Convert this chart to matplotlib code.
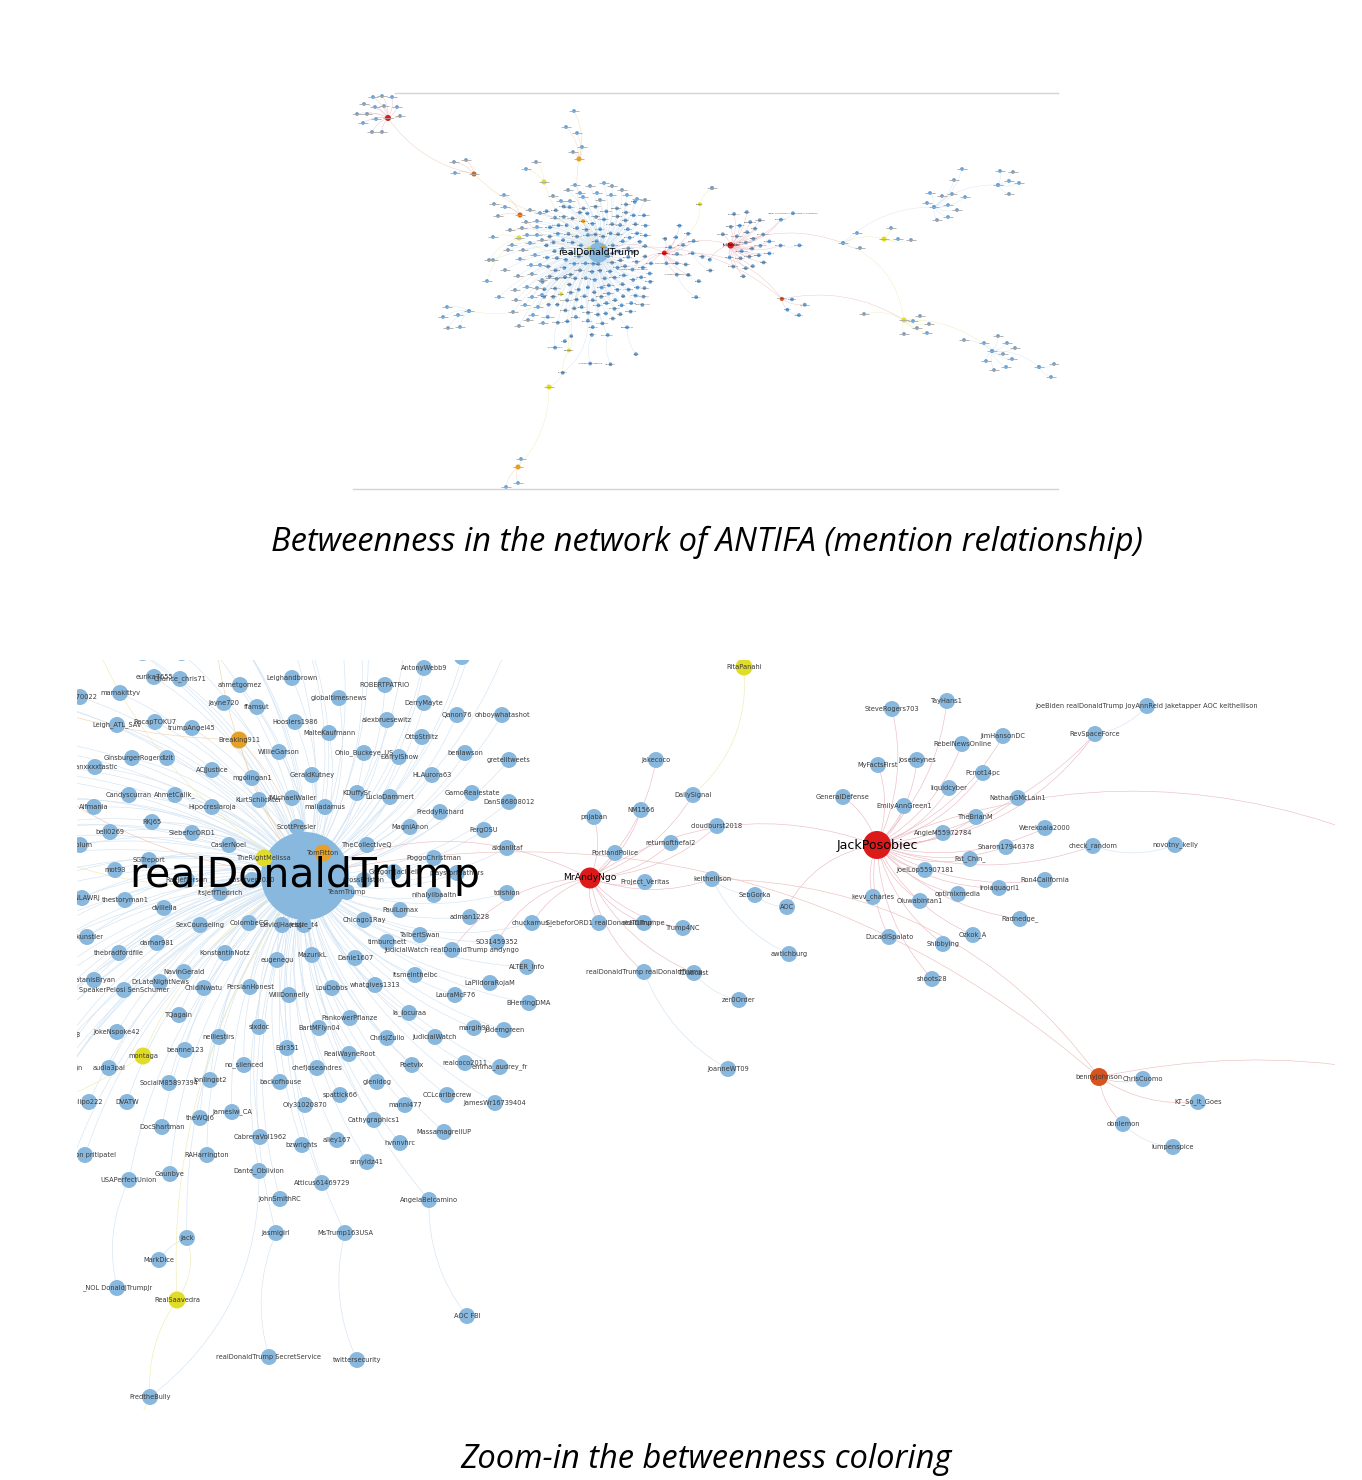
import matplotlib
matplotlib.use("Agg")
import matplotlib.pyplot as plt
from matplotlib.patches import FancyArrowPatch
from matplotlib.transforms import Affine2D

W, H, DPI = 1362, 1480, 100
K = 4.33  # the lower panel is the upper one magnified ~4.33x

# ---------------- zoomed network (lower-panel pixel frame) ----------------
hub_names = ["realDonaldTrump", "MrAndyNgo", "JackPosobiec", "bennyjohnson", "RitaPanahi"]
hub_x = [305, 590, 877, 1099, 744]
hub_y = [876, 878, 845, 1077, 667]

trump_names = [
    "eurika7655", "Chance_chris71", "mamakittyv", "Doc70022", "ahmetgomez",
    "Leighandbrown", "ROBERTPATRIO", "globaltimesnews", "AntonyWebb9", "cmaa668",
    "Jayne720", "ffamsut", "DerryMayte", "Qanon76", "ohboywhatashot",
    "Leigh_ATL_SAV", "RecapTOKU7", "trumpAngel45", "Hoosiers1986", "alexbruesewitz",
    "Breaking911", "MalteKaufmann", "OttoStrlitz", "WillieGarson", "Ohio_Buckeye_US",
    "DarrylShow", "benlawson", "gretelltweets", "GinsburgerRoger", "dizit",
    "Fanxxxxtastic", "ACJJustice", "mgolingan1", "GeraldKutney", "HLAurora63",
    "Candyscurran", "AhmetCalik_", "KDuffySr", "LuciaDammert", "GamoRealestate",
    "DanS86808012", "Alfmania", "Hipocresiaroja", "KurtSchlichter", "JMichaelWaller",
    "maliadamus", "FreddyRichard", "RKJ65", "bell0269", "SiebeforORD1",
    "ScottPresler", "MagniAnon", "FergOSU", "Fablum", "CaslerNoel",
    "TheCollectiveQ", "aidanlitaf", "TomFitton", "TheRightMelissa", "SGTreport",
    "PoggoChristman", "mot93", "GregoryJaciBell", "playsforfeathers", "RaeJefferson",
    "observer2020", "CrossBriston", "itsJeffTiedrich", "TeamTrump", "nihalyilbaaltn",
    "tdishion", "ELYNLAWRJ", "thestoryman1", "dvillella", "PaulLomax",
    "SexCounseling", "ColombeCG", "DavidJHarrisJr", "jessie_t4", "Chicago1Ray",
    "adman1228", "jhkunstler", "darhar981", "thebradfordfile", "KonstantinNotz",
    "eugenegu", "MazurikL", "Danie1607", "timburchett", "TalbertSwan",
    "JudicialWatch realDonaldTrump andyngo", "SO31459352", "ALTER_info", "SatanisBryan",
    "SpeakerPelosi SenSchumer",
    "NavinGerald", "DrLateNightNews", "ChidiNwatu", "PersianHonest", "WillDonnelly",
    "LouDobbs", "whatgives1313", "itsmeintheibc", "LaPildoraRojaM", "LauraMcF76",
    "BHerringDMA", "Nate2012", "TQagain", "la_locuraa", "PankowerPflanze",
    "sixdoc", "BartMFlyn04", "margih99", "judemgreen", "JokeNspoke42",
    "Tgirl73", "nelliestirs", "ChrisJZullo", "JudicialWatch", "montaga",
    "beanne123", "Edr351", "RealWayneRoot", "Poetvix", "realcoco2011",
    "emma_audrey_fr", "no_silenced", "chefjoseandres", "audia3pal", "bigman",
    "SocialM85897394", "lonlingot2", "backofhouse", "glenidog", "spattick66",
    "CCLcaribecrew", "lilipo222", "DVATW", "Oly31020870", "manni477",
    "JamesWr16739404", "theWQJ6", "jameslw_CA", "Cathygraphics1", "DocShartman",
    "CabreraVol1962", "alley167", "MassamagrellUP", "bzwrights", "hvnnvhrc",
    "Jefferson pritipatel", "RAHarrington", "USAPerfectUnion", "Gaunbye", "Dante_Oblivion",
    "snnyldz41", "Atticus61469729", "JohnSmithRC", "AngelaBelcamino", "jack",
    "Jasmigirl", "MsTrump163USA", "MarkDice", "_NOL DonaldJTrumpJr", "RealSaavedra",
    "AOC FBI", "realDonaldTrump SecretService", "twittersecurity", "FredtheBully",
]
trump_x = [
    154, 180, 120, 80, 240, 292, 385, 339, 424, 462,
    224, 257, 424, 457, 502, 117, 155, 192, 295, 387,
    239, 329, 422, 279, 364, 399, 465, 509, 132, 167,
    95, 212, 252, 312, 432, 129, 175, 357, 390, 472,
    509, 94, 212, 259, 292, 325, 440, 152, 110, 192,
    297, 410, 484, 80, 229, 367, 507, 323, 264, 149,
    434, 115, 394, 457, 187, 252, 364, 220, 347, 434,
    507, 82, 125, 164, 400, 200, 249, 282, 304, 364,
    470, 87, 157, 119, 225, 277, 312, 355, 387, 420,
    452, 497, 527, 94, 124, 184, 160, 204, 250, 289,
    332, 375, 415, 490, 455, 529, 62, 179, 409, 350,
    259, 319, 474, 504, 117, 70, 219, 387, 435, 143,
    185, 287, 349, 412, 465, 500, 244, 317, 109, 70,
    169, 210, 280, 377, 340, 447, 89, 127, 305, 405,
    495, 200, 232, 374, 162, 260, 337, 444, 302, 400,
    85, 207, 129, 170, 259, 367, 322, 280, 429, 187,
    276, 345, 159, 117, 177, 467, 269, 357, 150,
]
trump_y = [
    677, 679, 693, 697, 685, 678, 685, 698, 668, 657,
    703, 707, 703, 715, 715, 725, 722, 728, 722, 720,
    740, 733, 737, 752, 753, 757, 753, 760, 758, 758,
    767, 770, 778, 775, 775, 795, 795, 793, 797, 793,
    802, 807, 807, 800, 798, 807, 812, 822, 832, 833,
    827, 827, 830, 845, 845, 845, 848, 853, 858, 860,
    858, 870, 872, 873, 880, 880, 880, 893, 892, 895,
    893, 898, 900, 908, 910, 925, 923, 925, 925, 920,
    917, 937, 943, 953, 953, 960, 955, 958, 942, 935,
    950, 942, 967, 980, 990, 972, 982, 988, 987, 995,
    988, 985, 975, 983, 995, 1003, 1003, 1015, 1013, 1018,
    1027, 1028, 1028, 1030, 1032, 1035, 1037, 1038, 1037, 1056,
    1050, 1048, 1054, 1065, 1063, 1067, 1065, 1068, 1068, 1068,
    1083, 1080, 1082, 1082, 1095, 1095, 1102, 1102, 1105, 1105,
    1103, 1118, 1112, 1120, 1127, 1137, 1140, 1132, 1145, 1143,
    1155, 1155, 1180, 1174, 1171, 1162, 1183, 1199, 1200, 1238,
    1233, 1233, 1260, 1288, 1300, 1316, 1357, 1360, 1397,
]

ngo_names = [
    "jakecoco", "DailySignal", "NM1566", "pnjaban", "cloudburst2018",
    "returnofthefal2", "PortlandPolice", "Project_Veritas", "keithellison", "SebGorka",
    "AOC", "Trump4NC", "awtichburg", "chuckamus_", "SiebeforORD1 realDonaldTrump",
    "realDTrumpe", "realDonaldTrump realDonaldTrump", "TDubcast", "zer0Order", "JoanneWT09",
]
ngo_x = [656, 693, 641, 594, 717, 671, 615, 645, 712, 755,
         787, 683, 789, 532, 599, 644, 644, 694, 739, 728]
ngo_y = [760, 795, 810, 817, 826, 843, 853, 882, 879, 895,
         907, 928, 954, 923, 923, 923, 972, 973, 1000, 1069]

jack_names = [
    "TayHans1", "SteveRogers703",
    "JoeBiden realDonaldTrump JoyAnnReid jaketapper AOC keithellison",
    "JimHansonDC", "RebelNewsOnline",
    "RevSpaceForce", "josedeynes", "MyFactsFirst", "Pcnot14pc", "liquidcyber",
    "GeneralDefense", "NathanGMcLain1", "EmilyAnnGreen1", "TheBrianM", "Werekoala2000",
    "AngieM55972784", "Sharon17946378", "check_random", "novotny_kelly", "Fat_Chin_",
    "JoelLop55907181", "Ron4California", "lrolaquagrl1", "optimixmedia", "kevv_charles",
    "Oluwabintan1", "Radnedge_", "DucadiSpalato", "Ozkok_A", "Shibbying", "shoots28",
]
jack_x = [947, 892, 1147, 1003, 962, 1095, 917, 878, 983, 949,
          843, 1018, 904, 976, 1045, 943, 1006, 1093, 1175, 970,
          925, 1045, 999, 958, 873, 920, 1020, 889, 973, 943, 932]
jack_y = [701, 709, 706, 736, 744, 734, 760, 765, 773, 788,
          797, 798, 806, 817, 828, 833, 847, 846, 845, 859,
          870, 880, 888, 894, 897, 901, 919, 937, 935, 944, 979]

benny_names = ["ChrisCuomo", "KT_So_It_Goes", "donlemon", "lumpenspice"]
benny_x = [1143, 1198, 1123, 1173]
benny_y = [1079, 1102, 1124, 1147]

# betweenness colour classes (everything else is low / blue)
node_level = {
    "realDonaldTrump": "blue", "MrAndyNgo": "red", "JackPosobiec": "red",
    "bennyjohnson": "redorange", "RitaPanahi": "yellow", "Breaking911": "orange",
    "TomFitton": "orange", "TheRightMelissa": "yellow", "montaga": "yellow",
    "RealSaavedra": "yellow",
}

# edges that do not go to the cluster hub
relink = {
    "AOC FBI": "AngelaBelcamino", "twittersecurity": "MsTrump163USA",
    "realDonaldTrump SecretService": "Jasmigirl", "FredtheBully": "RealSaavedra",
    "MarkDice": "jack", "_NOL DonaldJTrumpJr": "USAPerfectUnion",
    "SebGorka": "keithellison", "AOC": "SebGorka", "awtichburg": "keithellison",
    "zer0Order": "TDubcast", "JoanneWT09": "realDonaldTrump realDonaldTrump",
    "JoeBiden realDonaldTrump JoyAnnReid jaketapper AOC keithellison": "RevSpaceForce",
    "novotny_kelly": "check_random", "lumpenspice": "donlemon",
}
extra_a = ["realDonaldTrump", "MrAndyNgo", "keithellison", "realDonaldTrump", "AOC",
           "jack", "Dante_Oblivion", "RitaPanahi", "JudicialWatch realDonaldTrump andyngo",
           "SO31459352", "chuckamus_", "RevSpaceForce"]
extra_b = ["MrAndyNgo", "JackPosobiec", "bennyjohnson", "bennyjohnson", "JackPosobiec",
           "RealSaavedra", "FredtheBully", "DailySignal", "MrAndyNgo",
           "MrAndyNgo", "realDonaldTrump", "JackPosobiec"]

# ---------------- outer parts only visible in the overview (upper-panel pixel frame) ----------------
ov_trump_x = [568, 580, 597, 611, 612, 627, 561, 570, 583, 600, 590, 622, 604, 575, 645, 553, 637,
              537, 537, 527, 537, 530, 523, 535, 540, 531, 520, 518, 532, 542, 527, 537, 532, 542,
              538, 543, 499, 513, 519, 493, 540, 530, 510, 515, 505, 525, 528, 512, 542, 526, 516,
              508, 522, 533]
ov_trump_y = [190, 193, 193, 195, 186, 195, 201, 201, 197, 200, 186, 190, 183, 185, 200, 196, 199,
              221, 227, 235, 235, 243, 250, 255, 265, 265, 259, 276, 274, 280, 287, 288, 297, 295,
              307, 323, 297, 312, 326, 260, 213, 210, 230, 290, 270, 305, 320, 245, 240, 222, 300,
              250, 228, 315]

ov_hub_names = ["ov_red", "ov_dark", "ov_top", "ov_yel1", "ov_org", "ov_yel2", "ov_left",
                "ov_yel3", "ov_tail", "ov_r1", "ov_yel4", "ov_r2", "ov_r3", "ov_yel5", "ov_r4",
                "ov_r5", "ov_up"]
ov_hub_x = [388, 474, 579, 544, 520, 519, 469, 549, 518, 843, 884, 934, 998, 904, 992, 1039, 712]
ov_hub_y = [118, 174, 159, 182, 215, 238, 311, 387, 467, 243, 239, 207, 185, 320, 351, 367, 188]
ov_hub_level = ["red", "darkorange", "orange", "yellow", "darkorange", "yellow", "blue",
                "yellow", "orange", "blue", "yellow", "blue", "blue", "yellow", "blue", "blue", "blue"]
ov_hub_link = ["ov_dark", "Breaking911", "realDonaldTrump", "realDonaldTrump", "realDonaldTrump",
               "realDonaldTrump", "montaga", "FredtheBully", "ov_yel3", "JackPosobiec", "ov_r1",
               "ov_r1", "ov_r2", "bennyjohnson", "ov_yel5", "ov_r4", "RitaPanahi"]
ov_leaf_x = [
    [382, 373, 392, 364, 375, 384, 397, 357, 367, 376, 400, 363, 372, 382],
    [454, 466, 455],
    [574, 566, 577, 582, 573],
    [536, 526],
    [504, 494, 505, 498],
    [493, 489, 487],
    [447, 458, 443, 448, 460],
    [],
    [521, 518, 506],
    [857, 860],
    [891, 898, 911],
    [962, 954, 930, 942, 952, 965, 927, 948, 957, 948, 937],
    [1000, 1013, 1009, 1019, 1009],
    [864, 913, 920, 929, 917, 927, 904],
    [964, 984, 998, 1007, 1003, 1015, 1012, 986, 1006, 994],
    [1054, 1051],
    [],
]
ov_leaf_y = [
    [96, 97, 97, 104, 107, 106, 107, 114, 114, 119, 116, 123, 132, 132],
    [162, 160, 173],
    [111, 127, 133, 147, 152],
    [162, 169],
    [195, 204, 207, 216],
    [237, 260, 281],
    [307, 315, 317, 328, 327],
    [],
    [459, 483, 487],
    [233, 248],
    [228, 239, 240],
    [169, 180, 193, 196, 194, 197, 203, 205, 210, 217, 220],
    [171, 172, 181, 183, 194],
    [314, 321, 316, 324, 328, 333, 334],
    [340, 343, 336, 343, 354, 348, 359, 361, 367, 370],
    [364, 377],
    [],
]

# ---------------- styles ----------------
node_colors = {"blue": "#89b8de", "red": "#dc1a1a", "redorange": "#d9531e",
               "orange": "#e4a126", "darkorange": "#cf6a1c", "yellow": "#e1dc27"}
overview_blue = "#6a9fd2"
edge_colors = {"blue": "#d3e4f3", "red": "#ecbcc5", "redorange": "#ecc0bd",
               "orange": "#f0d6b2", "darkorange": "#efc6b4", "yellow": "#efecb4"}
node_diam = {"realDonaldTrump": 88, "JackPosobiec": 28, "MrAndyNgo": 21, "bennyjohnson": 18}
label_size = {"realDonaldTrump": 29.5, "JackPosobiec": 9.1, "MrAndyNgo": 6.6}

# ---------------- build the graph ----------------
ov_to_zoom = Affine2D().translate(-598.5, -252.5).scale(K).translate(305, 876)

pos, level, diam, labelled = {}, {}, {}, set()


def add_nodes(names, xs, ys, overview=False, lvl="blue", d=16):
    for n, x, y in zip(names, xs, ys):
        pos[n] = tuple(ov_to_zoom.transform((x, y))) if overview else (x, y)
        level[n] = node_level.get(n, lvl)
        diam[n] = node_diam.get(n, d if level[n] == "blue" else max(d, 17))
        if not overview:
            labelled.add(n)


add_nodes(hub_names, hub_x, hub_y)
add_nodes(trump_names, trump_x, trump_y)
add_nodes(ngo_names, ngo_x, ngo_y)
add_nodes(jack_names, jack_x, jack_y)
add_nodes(benny_names, benny_x, benny_y)

edges = []
for hub, names in [("realDonaldTrump", trump_names), ("MrAndyNgo", ngo_names),
                   ("JackPosobiec", jack_names), ("bennyjohnson", benny_names)]:
    for n in names:
        edges.append((relink.get(n, hub), n, 0.18))
for a, b in zip(extra_a, extra_b):
    edges.append((a, b, -0.25))

ov_trump_names = [f"ovt{i}" for i in range(len(ov_trump_x))]
add_nodes(ov_trump_names, ov_trump_x, ov_trump_y, overview=True)
edges += [("realDonaldTrump", n, 0.18) for n in ov_trump_names]

for i, hub in enumerate(ov_hub_names):
    d = 26 if ov_hub_level[i] == "red" else (22 if ov_hub_level[i] != "blue" else 18)
    add_nodes([hub], [ov_hub_x[i]], [ov_hub_y[i]], overview=True, lvl=ov_hub_level[i], d=d)
for i, hub in enumerate(ov_hub_names):
    leaves = [f"{hub}_{j}" for j in range(len(ov_leaf_x[i]))]
    add_nodes(leaves, ov_leaf_x[i], ov_leaf_y[i], overview=True)
    edges += [(hub, n, 0.2) for n in leaves]
    edges.append((ov_hub_link[i], hub, -0.2))
edges.append(("ov_yel5", "ov_r1", 0.3))
edges.append(("Breaking911", "realDonaldTrump", 0.1))


def edge_color(a, b):
    for n in (a, b):
        if level[n] != "blue" and n != "realDonaldTrump":
            return edge_colors[level[n]]
    return edge_colors["blue"]


def draw_network(ax, k, overview):
    lw = 0.45 if not overview else 0.3
    for a, b, rad in edges:
        ax.add_patch(FancyArrowPatch(pos[a], pos[b], arrowstyle="-",
                                     connectionstyle=f"arc3,rad={rad}",
                                     color=edge_color(a, b), lw=lw,
                                     shrinkA=0, shrinkB=0, zorder=1))
    order = sorted(pos, key=lambda n: -diam[n])
    xs = [pos[n][0] for n in order]
    ys = [pos[n][1] for n in order]
    sizes = [(max(diam[n] * k, 3.8) * 72 / DPI) ** 2 for n in order]
    cols = []
    for n in order:
        c = node_colors[level[n]]
        if overview and level[n] == "blue" and n != "realDonaldTrump":
            c = overview_blue
        cols.append(c)
    ax.scatter(xs, ys, s=sizes, c=cols, linewidths=0, zorder=2)
    # labels are centred on the nodes, as in Gephi
    for n in labelled:
        fs = label_size.get(n, 4.8) * k
        col = "black" if n in label_size else "#3a3a3a"
        ax.text(pos[n][0], pos[n][1], n, fontsize=fs, color=col, ha="center",
                va="center", clip_on=True, zorder=4 if n != "realDonaldTrump" else 5)
    if overview:
        dash = [n for n in pos if n not in labelled]
        ax.scatter([pos[n][0] for n in dash], [pos[n][1] for n in dash], marker="_",
                   s=60, linewidths=0.6, color="#a8a8a8", zorder=3)


plt.rcParams["font.family"] = ["DejaVu Sans"]
fig = plt.figure(figsize=(W / DPI, H / DPI), dpi=DPI)

# upper panel: overview
top = fig.add_axes([353 / W, 1 - 489 / H, (1058 - 353) / W, (489 - 93) / H])
(x0, y0), (x1, y1) = ov_to_zoom.transform([(353, 93), (1058, 489)])
top.set_xlim(x0, x1)
top.set_ylim(y1, y0)
draw_network(top, 1 / K, True)
top.set_xticks([])
top.set_yticks([])
for side in ["left", "right", "top"]:
    top.spines[side].set_visible(False)
top.spines["bottom"].set_color("#d4d4d4")
top.spines["bottom"].set_linewidth(1.0)
# upper frame line starts a little to the right of the panel's left edge
top.plot([0.06, 1.0], [1.0, 1.0], transform=top.transAxes, color="#d4d4d4",
         lw=1.0, clip_on=False, zorder=6)

# lower panel: zoom-in
low = fig.add_axes([77 / W, 1 - 1410 / H, (1335 - 77) / W, (1410 - 660) / H])
low.set_xlim(77, 1335)
low.set_ylim(1410, 660)
draw_network(low, 1.0, False)
low.axis("off")

fig.text(707 / W, 1 - 542 / H, "Betweenness in the network of ANTIFA (mention relationship)",
         ha="center", va="center", fontsize=23.5, style="italic", family="Open Sans")
fig.text(706 / W, 1 - 1460 / H, "Zoom-in the betweenness coloring",
         ha="center", va="center", fontsize=23.5, style="italic", family="Open Sans")

fig.savefig("out.png", dpi=DPI)
